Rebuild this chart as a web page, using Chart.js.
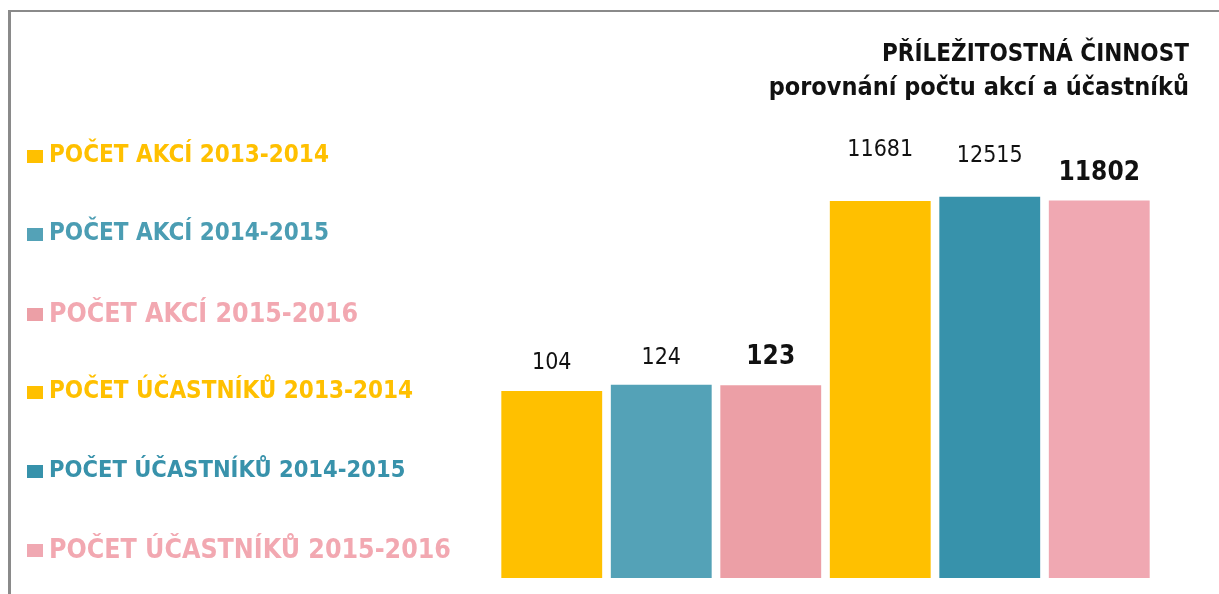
<!DOCTYPE html>
<html lang="cs">
<head>
    <meta charset="UTF-8">
    <title>Příležitostná činnost</title>
    <script src="https://cdn.jsdelivr.net/npm/chart.js"></script>
    <style>
        body {
            margin: 0;
            padding: 0;
            background: #fff;
            font-family: "DejaVu Sans Condensed", "DejaVu Sans", sans-serif;
        }
        .wrap {
            position: relative;
            width: 1219px;
            height: 594px;
            overflow: hidden;
        }
        .frame {
            position: absolute;
            left: 8px;
            top: 10px;
            width: 1300px;
            height: 700px;
            border-left: 3px solid #8a8a8a;
            border-top: 2px solid #8a8a8a;
        }
        canvas {
            position: absolute;
            left: 0;
            top: 0;
        }
        .title {
            position: absolute;
            right: 30px;
            top: 36px;
            text-align: right;
            font-weight: bold;
            font-size: 24px;
            line-height: 34px;
            color: #111;
        }
        .title .sub {
            font-size: 25px;
        }
        .legend {
            position: absolute;
            left: 27px;
            top: 0;
        }
        .legend .item {
            position: absolute;
            left: 0;
            white-space: nowrap;
            font-weight: bold;
            display: flex;
            align-items: center;
            height: 30px;
        }
        .legend .box {
            display: inline-block;
            width: 16px;
            height: 13px;
            margin-right: 6px;
            margin-top: 4px;
        }
    </style>
</head>
<body>
    <div class="wrap">
        <div class="frame"></div>
        <canvas id="activityChart" width="1219" height="594"></canvas>
        <div class="title">PŘÍLEŽITOSTNÁ ČINNOST<br><span class="sub">porovnání počtu akcí a účastníků</span></div>
        <div class="legend" id="legend"></div>
    </div>

    <script>
        // data
        const categories = [
            'POČET AKCÍ 2013-2014',
            'POČET AKCÍ 2014-2015',
            'POČET AKCÍ 2015-2016',
            'POČET ÚČASTNÍKŮ 2013-2014',
            'POČET ÚČASTNÍKŮ 2014-2015',
            'POČET ÚČASTNÍKŮ 2015-2016'
        ];
        const eventCounts = [104, 124, 123, null, null, null];
        const participantCounts = [null, null, null, 11681, 12515, 11802];

        // styles
        const barColors = ['#ffc000', '#54a2b7', '#ec9fa6', '#ffc000', '#3792ab', '#f0a8b2'];
        const legendColors = ['#ffc000', '#4b9db3', '#f2a8b1', '#ffc000', '#3892ab', '#f2a8b1'];
        const legendSizes = [24, 24, 26.5, 24, 23.5, 26.5];
        const legendCenters = [154, 232, 312, 390, 469, 548];
        const labelLift = [28, 27, 28, 51, 41, 27];
        const boldLabel = [false, false, true, false, false, true];

        // html legend
        const legendEl = document.getElementById('legend');
        categories.forEach((name, i) => {
            const item = document.createElement('div');
            item.className = 'item';
            item.style.top = (legendCenters[i] - 15) + 'px';
            item.style.fontSize = legendSizes[i] + 'px';
            item.style.color = legendColors[i];
            const box = document.createElement('span');
            box.className = 'box';
            box.style.background = barColors[i];
            item.appendChild(box);
            item.appendChild(document.createTextNode(name));
            legendEl.appendChild(item);
        });

        const valueLabels = {
            id: 'valueLabels',
            afterDatasetsDraw(chart) {
                const ctx = chart.ctx;
                ctx.save();
                ctx.fillStyle = '#111';
                ctx.textAlign = 'center';
                ctx.textBaseline = 'middle';
                chart.data.datasets.forEach((ds, di) => {
                    const meta = chart.getDatasetMeta(di);
                    meta.data.forEach((bar, i) => {
                        const v = ds.data[i];
                        if (v === null) return;
                        ctx.font = boldLabel[i]
                            ? 'bold 26px "DejaVu Sans Condensed", "DejaVu Sans", sans-serif'
                            : '23px "DejaVu Sans Condensed", "DejaVu Sans", sans-serif';
                        ctx.fillText(String(v), bar.x, bar.y - labelLift[i]);
                    });
                });
                ctx.restore();
            }
        };

        // the two groups use separate hidden scales, bars start at the scale minimum
        const eventMin = -500, eventMax = 1044;
        const peopleMin = -60000, peopleMax = 30890;

        const ctx = document.getElementById('activityChart').getContext('2d');
        const activityChart = new Chart(ctx, {
            type: 'bar',
            data: {
                labels: categories,
                datasets: [{
                    label: 'Počet akcí',
                    data: eventCounts,
                    backgroundColor: barColors,
                    base: eventMin,
                    yAxisID: 'y'
                }, {
                    label: 'Počet účastníků',
                    data: participantCounts,
                    backgroundColor: barColors,
                    base: peopleMin,
                    yAxisID: 'y2'
                }]
            },
            options: {
                responsive: false,
                animation: false,
                skipNull: true,
                categoryPercentage: 1,
                barPercentage: 0.921,
                layout: {
                    padding: { left: 497, right: 65, top: 100, bottom: 16 }
                },
                plugins: {
                    legend: { display: false },
                    tooltip: { enabled: false }
                },
                scales: {
                    x: { display: false },
                    y: { display: false, min: eventMin, max: eventMax },
                    y2: { display: false, min: peopleMin, max: peopleMax }
                }
            },
            plugins: [valueLabels]
        });
    </script>
</body>
</html>
